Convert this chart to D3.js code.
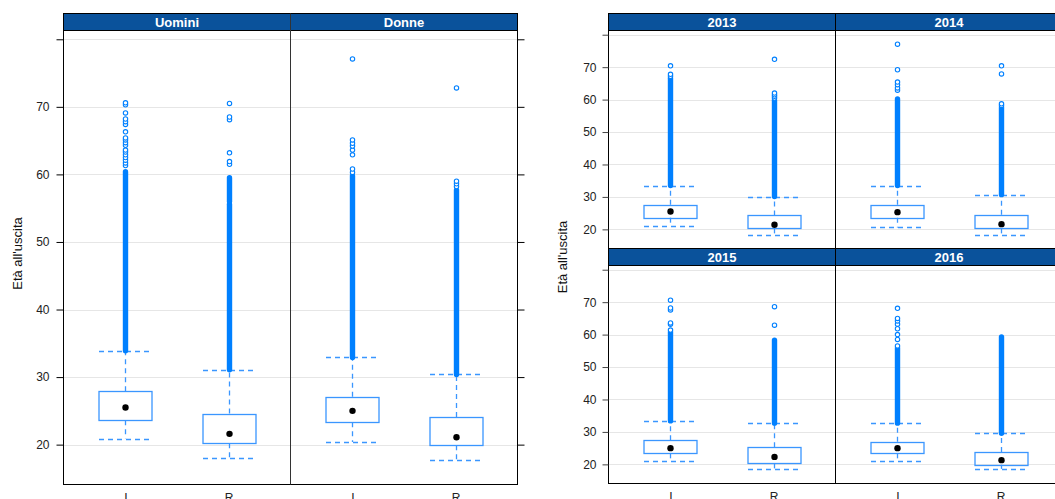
<!DOCTYPE html>
<html>
<head>
<meta charset="utf-8">
<script src="https://cdn.jsdelivr.net/npm/d3@7"></script>
<style>
  body { margin: 0; background: #fff; }
  svg { display: block; font-family: "Liberation Sans", Arial, sans-serif; }
</style>
</head>
<body>
<svg id="chart" width="1055" height="499"></svg>
<script>
// ---- data ----
const groups = ["I", "R"];
const yTicks = [20, 30, 40, 50, 60, 70, 80];
const yTickLabels = ["20", "30", "40", "50", "60", "70", ""];
const sexPanels = ["Uomini", "Donne"];
const yearPanels = ["2013", "2014", "2015", "2016"];
const yLabel = "Età all'uscita";

// five-number summaries per group (I, R): [low whisker, Q1, median, Q3, high whisker]
const statsUomini = [[20.9, 23.6, 25.5, 27.9, 33.9], [18.0, 20.2, 21.6, 24.6, 31.1]];
const statsDonne  = [[20.4, 23.3, 25.0, 27.1, 32.9], [17.8, 19.9, 21.1, 24.1, 30.4]];
const stats2013   = [[20.9, 23.6, 25.5, 27.6, 33.5], [18.2, 20.3, 21.4, 24.3, 30.1]];
const stats2014   = [[20.6, 23.6, 25.3, 27.6, 33.5], [18.2, 20.3, 21.6, 24.5, 30.7]];
const stats2015   = [[21.0, 23.4, 25.0, 27.4, 33.4], [18.6, 20.3, 22.3, 25.3, 32.7]];
const stats2016   = [[21.0, 23.4, 25.0, 27.0, 32.7], [18.6, 19.9, 21.3, 23.8, 29.6]];

// runs of overlapping outliers [from, to], per group (I, R)
const runsUomini = [[[33.9, 60.4]], [[31.1, 55.6], [56.0, 59.5]]];
const runsDonne  = [[[32.9, 59.8]], [[30.4, 57.7]]];
const runs2013   = [[[33.5, 66.6]], [[30.1, 59.8]]];
const runs2014   = [[[33.5, 60.2]], [[30.7, 57.6]]];
const runs2015   = [[[33.4, 60.8]], [[32.7, 58.3]]];
const runs2016   = [[[32.7, 55.9]], [[29.6, 59.3]]];

// isolated outliers, per group (I, R)
const outUomini = [[61.3, 61.7, 62.1, 62.5, 62.9, 63.3, 63.6, 64.3, 64.7, 65.1, 65.4, 66.3, 67.4, 67.8, 68.2, 69.1, 70.3, 70.6],
                   [61.5, 61.9, 63.2, 68.1, 68.5, 70.5]];
const outDonne  = [[60.3, 60.8, 62.9, 63.6, 64.2, 64.6, 65.1, 77.1], [58.2, 58.6, 59.0, 72.8]];
const out2013   = [[67.2, 67.8, 70.4], [60.5, 61.0, 61.5, 62.0, 72.4]];
const out2014   = [[62.9, 63.6, 64.6, 65.4, 69.2, 77.1], [58.2, 58.7, 67.9, 70.4]];
const out2015   = [[61.4, 63.2, 63.6, 67.6, 68.2, 70.6], [62.9, 68.6]];
const out2016   = [[56.5, 58.5, 60.0, 61.8, 63.2, 64.2, 65.0, 68.1], []];

const yDomain = [14.1, 81.3];

// ---- styles ----
const BLUE = "#0080ff";
const BOX = "#3a96ff";
const STRIP = "#0a529b";
const GRID = "#e6e6e6";

const svg = d3.select("#chart");

function drawPanel(g, x0, x1, y, stats, runs, outs) {
  const x = d3.scalePoint().domain(groups).range([x0, x1]).padding(0.6);
  const hw = 26.5;

  g.append("g").selectAll("line").data(yTicks).join("line")
    .attr("x1", x0).attr("x2", x1)
    .attr("y1", d => Math.round(y(d)) + 0.5).attr("y2", d => Math.round(y(d)) + 0.5)
    .attr("stroke", GRID).attr("stroke-width", 1);

  groups.forEach((grp, i) => {
    const cx = Math.round(x(grp)) + 0.5;
    const s = stats[i];
    const gg = g.append("g");
    const dash = "5,4";
    // whiskers
    gg.append("line").attr("x1", cx).attr("x2", cx).attr("y1", y(s[1])).attr("y2", y(s[0]))
      .attr("stroke", BOX).attr("stroke-width", 1.3).attr("stroke-dasharray", dash);
    gg.append("line").attr("x1", cx).attr("x2", cx).attr("y1", y(s[3])).attr("y2", y(s[4]))
      .attr("stroke", BOX).attr("stroke-width", 1.3).attr("stroke-dasharray", dash);
    [s[0], s[4]].forEach(v => {
      gg.append("line").attr("x1", cx - hw).attr("x2", cx + hw)
        .attr("y1", Math.round(y(v)) + 0.5).attr("y2", Math.round(y(v)) + 0.5)
        .attr("stroke", BOX).attr("stroke-width", 1.3).attr("stroke-dasharray", dash);
    });
    // box
    gg.append("rect")
      .attr("x", cx - hw).attr("width", 2 * hw)
      .attr("y", Math.round(y(s[3])) + 0.5)
      .attr("height", Math.round(y(s[1])) - Math.round(y(s[3])))
      .attr("fill", "none").attr("stroke", BOX).attr("stroke-width", 1.3);
    // overlapping outlier runs
    gg.selectAll("line.run").data(runs[i]).join("line").attr("class", "run")
      .attr("x1", cx).attr("x2", cx)
      .attr("y1", d => y(d[0])).attr("y2", d => y(d[1]))
      .attr("stroke", BLUE).attr("stroke-width", 5.4).attr("stroke-linecap", "round");
    // isolated outliers
    gg.selectAll("circle.out").data(outs[i]).join("circle").attr("class", "out")
      .attr("cx", cx).attr("cy", d => y(d)).attr("r", 2.2)
      .attr("fill", "#fff").attr("stroke", BLUE).attr("stroke-width", 1.1);
    // median
    gg.append("circle").attr("cx", cx).attr("cy", y(s[2])).attr("r", 3.2).attr("fill", "#000");
  });

  return x;
}

function strip(g, x0, x1, y0, y1, label) {
  g.append("rect").attr("x", x0).attr("y", y0).attr("width", x1 - x0).attr("height", y1 - y0)
    .attr("fill", STRIP).attr("stroke", "#000").attr("stroke-width", 1);
  g.append("text").attr("x", (x0 + x1) / 2).attr("y", (y0 + y1) / 2 + 4.6)
    .attr("text-anchor", "middle").attr("fill", "#fff")
    .attr("font-size", 13).attr("font-weight", "bold").text(label);
}

function styleAxis(sel, col) {
  sel.select(".domain").remove();
  sel.selectAll(".tick line").attr("stroke", col);
  sel.selectAll(".tick text").attr("fill", "#222").attr("font-size", 12)
    .attr("font-family", "\"Liberation Sans\", Arial, sans-serif");
}

const fmt = d => yTickLabels[yTicks.indexOf(d)];

// ---- left figure: by sex ----
{
  const L = 63.5, R = 517.5, T = 30.5, B = 484.5, S = 13.5;
  const mid = (L + R) / 2;
  const y = d3.scaleLinear().domain(yDomain).range([B, T]);
  const g = svg.append("g");
  const tables = [
    [statsUomini, runsUomini, outUomini],
    [statsDonne, runsDonne, outDonne]
  ];
  sexPanels.forEach((name, k) => {
    const x0 = k === 0 ? L : mid, x1 = k === 0 ? mid : R;
    const x = drawPanel(g, x0, x1, y, ...tables[k]);
    strip(g, x0, x1, S, T, name);
    const ax = g.append("g").attr("transform", `translate(0,${B})`)
      .call(d3.axisBottom(x).tickSize(0).tickPadding(9));
    styleAxis(ax, "#000");
  });
  g.append("rect").attr("x", L).attr("y", T).attr("width", R - L).attr("height", B - T)
    .attr("fill", "none").attr("stroke", "#000");
  g.append("line").attr("x1", mid).attr("x2", mid).attr("y1", S).attr("y2", B).attr("stroke", "#333");

  const axL = g.append("g").attr("transform", `translate(${L},0)`)
    .call(d3.axisLeft(y).tickValues(yTicks).tickFormat(fmt).tickSize(7).tickPadding(7));
  styleAxis(axL, "#000");
  const axR = g.append("g").attr("transform", `translate(${R},0)`)
    .call(d3.axisRight(y).tickValues(yTicks).tickFormat("").tickSize(7));
  styleAxis(axR, "#000");

  g.append("text").attr("transform", `translate(22,${(T + B) / 2 - 4}) rotate(-90)`)
    .attr("text-anchor", "middle").attr("font-size", 13).attr("fill", "#111").text(yLabel);
}

// ---- right figure: by year ----
{
  const L = 608.5, W = 227, T = 30.5, S = 13.5, PH = 218, SH = 17;
  const tables = [
    [stats2013, runs2013, out2013],
    [stats2014, runs2014, out2014],
    [stats2015, runs2015, out2015],
    [stats2016, runs2016, out2016]
  ];
  const g = svg.append("g");
  yearPanels.forEach((name, k) => {
    const col = k % 2, row = Math.floor(k / 2);
    const x0 = L + col * W, x1 = x0 + W;
    const sTop = S + row * (PH + SH), pTop = sTop + SH, pBot = pTop + PH;
    const y = d3.scaleLinear().domain(yDomain).range([pBot, pTop]);
    const x = drawPanel(g, x0, x1, y, ...tables[k]);
    strip(g, x0, x1, sTop, pTop, name);
    g.append("rect").attr("x", x0).attr("y", pTop).attr("width", W).attr("height", PH)
      .attr("fill", "none").attr("stroke", "#000");
    if (row === 1) {
      const ax = g.append("g").attr("transform", `translate(0,${pBot})`)
        .call(d3.axisBottom(x).tickSize(0).tickPadding(9));
      styleAxis(ax, "#000");
    }
    if (col === 0) {
      const axL = g.append("g").attr("transform", `translate(${L},0)`)
        .call(d3.axisLeft(y).tickValues(yTicks).tickFormat(fmt).tickSize(6).tickPadding(6));
      styleAxis(axL, "#444");
    }
  });
  g.append("text").attr("transform", `translate(567,${(T + 483.5) / 2}) rotate(-90)`)
    .attr("text-anchor", "middle").attr("font-size", 13).attr("fill", "#111").text(yLabel);
}
</script>
</body>
</html>
